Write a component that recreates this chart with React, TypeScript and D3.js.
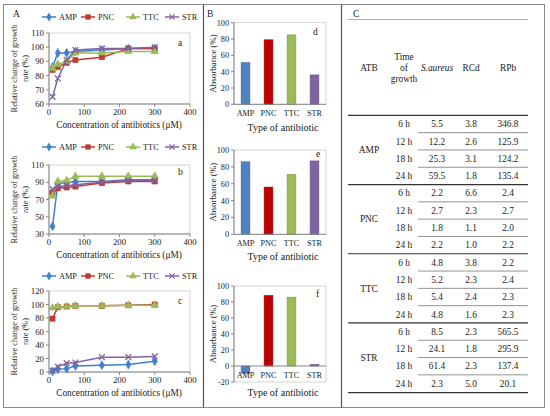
import React from "react";
import * as d3 from "d3";

const SERIES = ["AMP", "PNC", "TTC", "STR"];
const COLORS = ["#3F7FCF", "#C0392F", "#9BBB59", "#8064A2"];
const BAR_COLORS = ["#4F81BD", "#C00000", "#9BBB59", "#8064A2"];
const CONC = [10, 25, 50, 75, 150, 225, 300];

// Panel A a
const A_AMP = [86, 96, 96, 97, 98, 99, 99];
const A_PNC = [84, 86, 89, 91, 93, 99, 99];
const A_TTC = [85, 88, 90, 96, 96, 97, 97];
const A_STR = [65, 78, 91, 98, 99, 99, 100];
// Panel A b
const B_AMP = [39, 88, 90, 91, 91, 93, 93];
const B_PNC = [78, 83, 84, 85, 89, 91, 91];
const B_TTC = [74, 91, 92, 97, 97, 97, 97];
const B_STR = [82, 85, 86, 87, 90, 92, 92];
// Panel A c
const C_AMP = [1, 4, 5, 9, 10, 11, 16];
const C_PNC = [79, 96, 97, 98, 98, 99, 100];
const C_TTC = [95, 97, 97, 98, 98, 99, 99];
const C_STR = [2, 8, 13, 14, 22, 22, 23];

// Panel B
const D_VALUES = [51, 79, 85, 36];
const E_VALUES = [86, 56, 71, 87];
const F_VALUES = [-9, 88, 86, 2];

// Panel C table
const TIMES = ["6 h", "12 h", "18 h", "24 h"];
const SAUREUS = [
  ["5.5", "12.2", "25.3", "59.5"],
  ["2.2", "2.7", "1.8", "2.2"],
  ["4.8", "5.2", "5.4", "4.8"],
  ["8.5", "24.1", "61.4", "2.3"],
];
const RCD = [
  ["3.8", "2.6", "3.1", "1.8"],
  ["6.6", "2.3", "1.1", "1.0"],
  ["3.8", "2.3", "2.4", "1.6"],
  ["2.3", "1.8", "2.3", "5.0"],
];
const RPB = [
  ["346.8", "125.9", "124.2", "135.4"],
  ["2.4", "2.7", "2.0", "2.2"],
  ["2.2", "2.4", "2.3", "2.3"],
  ["565.5", "295.9", "137.4", "20.1"],
];

const FONT = "Liberation Serif, Times New Roman, serif";
const TXT = "#222";

function Marker({ kind, x, y, color, scale = 1 }: { kind: number; x: number; y: number; color: string; scale?: number }) {
  if (kind === 3) {
    const s = 2.9 * scale;
    return (
      <path
        d={`M${x - s},${y - s}L${x + s},${y + s}M${x - s},${y + s}L${x + s},${y - s}`}
        stroke={color}
        strokeWidth={1.3}
      />
    );
  }
  const types = [d3.symbolDiamond, d3.symbolSquare, d3.symbolTriangle];
  const sizes = [24, 28, 26];
  const p = d3.symbol().type(types[kind]).size(sizes[kind] * scale * scale)();
  return <path d={p || ""} transform={`translate(${x},${y})`} fill={color} stroke={color} strokeWidth={0.5} />;
}

function Legend({ y }: { y: number }) {
  const xs = [42, 81, 126, 165];
  return (
    <g>
      {SERIES.map((s, i) => (
        <g key={s}>
          <line x1={xs[i]} x2={xs[i] + 14} y1={y} y2={y} stroke={COLORS[i]} strokeWidth={1.5} />
          <Marker kind={i} x={xs[i] + 7} y={y} color={COLORS[i]} scale={0.9} />
          <text x={xs[i] + 17} y={y + 2.9} fontSize={8.3} fontFamily={FONT} fill={TXT}>
            {s}
          </text>
        </g>
      ))}
    </g>
  );
}

function LineChart({
  top,
  bottom,
  domain,
  step,
  data,
  letter,
  letterY,
  legendY,
}: {
  top: number;
  bottom: number;
  domain: [number, number];
  step: number;
  data: number[][];
  letter: string;
  letterY: number;
  legendY: number;
}) {
  const x = d3.scaleLinear().domain([0, 400]).range([49, 190]);
  const y = d3.scaleLinear().domain(domain).range([bottom, top]);
  const yt = d3.range(domain[0], domain[1] + 0.001, step);
  const xt = [0, 100, 200, 300, 400];
  const line = d3
    .line<number>()
    .x((_, i) => x(CONC[i]))
    .y((v) => y(v));
  const mid = (top + bottom) / 2;
  return (
    <g>
      <Legend y={legendY} />
      <rect x={49} y={top} width={141} height={bottom - top} fill="none" stroke="#c8c8c8" strokeWidth={0.8} />
      <line x1={49} x2={49} y1={top} y2={bottom} stroke="#868686" />
      <line x1={49} x2={190} y1={bottom} y2={bottom} stroke="#868686" />
      {yt.map((t) => (
        <g key={t}>
          <line x1={46} x2={49} y1={y(t)} y2={y(t)} stroke="#868686" />
          <text x={44} y={y(t) + 3} textAnchor="end" fontSize={8.8} fontFamily={FONT} fill={TXT}>
            {t}
          </text>
        </g>
      ))}
      {xt.map((t) => (
        <g key={t}>
          <line x1={x(t)} x2={x(t)} y1={bottom} y2={bottom + 3} stroke="#868686" />
          <text x={x(t)} y={bottom + 11} textAnchor="middle" fontSize={8.8} fontFamily={FONT} fill={TXT}>
            {t}
          </text>
        </g>
      ))}
      <text x={119} y={bottom + 24} textAnchor="middle" fontSize={9.3} fontFamily={FONT} fill={TXT}>
        Concentration of antibiotics (μM)
      </text>
      <text
        transform={`translate(17,${mid}) rotate(-90)`}
        textAnchor="middle"
        fontSize={8.3}
        fontFamily={FONT}
        fill={TXT}
      >
        Relative change of growth
      </text>
      <text
        transform={`translate(28,${mid}) rotate(-90)`}
        textAnchor="middle"
        fontSize={8.3}
        fontFamily={FONT}
        fill={TXT}
      >
        rate (%)
      </text>
      <text x={178} y={letterY} fontSize={9.5} fontFamily={FONT} fill={TXT}>
        {letter}
      </text>
      {data.map((vals, si) => (
        <g key={si}>
          <path d={line(vals) || ""} fill="none" stroke={COLORS[si]} strokeWidth={1.5} />
          {vals.map((v, i) => (
            <Marker key={i} kind={si} x={x(CONC[i])} y={y(v)} color={COLORS[si]} />
          ))}
        </g>
      ))}
    </g>
  );
}

function BarChart({
  top,
  bottom,
  domain,
  values,
  letter,
  letterX,
  letterY,
  titleY,
}: {
  top: number;
  bottom: number;
  domain: [number, number];
  values: number[];
  letter: string;
  letterX: number;
  letterY: number;
  titleY: number;
}) {
  const x = d3.scaleBand<string>().domain(SERIES).range([234, 326]).paddingInner(0.62).paddingOuter(0.31);
  const y = d3.scaleLinear().domain(domain).range([bottom, top]);
  const yt = d3.range(domain[0], domain[1] + 0.001, 20);
  const zero = y(0);
  const mid = (top + bottom) / 2;
  return (
    <g>
      <rect x={234} y={top} width={92} height={bottom - top} fill="none" stroke="#c8c8c8" strokeWidth={0.8} />
      <line x1={234} x2={234} y1={top} y2={bottom} stroke="#868686" />
      {yt.map((t) => (
        <g key={t}>
          <line x1={231} x2={234} y1={y(t)} y2={y(t)} stroke="#868686" />
          <text x={229} y={y(t) + 3} textAnchor="end" fontSize={8.2} fontFamily={FONT} fill={TXT}>
            {t}
          </text>
        </g>
      ))}
      {values.map((v, i) => (
        <rect
          key={i}
          x={x(SERIES[i])}
          width={x.bandwidth()}
          y={Math.min(y(v), zero)}
          height={Math.abs(y(v) - zero)}
          fill={BAR_COLORS[i]}
          stroke={d3.color(BAR_COLORS[i])!.darker(0.6).toString()}
          strokeWidth={0.6}
        />
      ))}
      <line x1={234} x2={326} y1={zero} y2={zero} stroke="#868686" />
      {SERIES.map((s) => (
        <text
          key={s}
          x={(x(s) || 0) + x.bandwidth() / 2}
          y={zero + 11.5}
          textAnchor="middle"
          fontSize={8.2}
          fontFamily={FONT}
          fill={TXT}
        >
          {s}
        </text>
      ))}
      <text x={283} y={titleY} textAnchor="middle" fontSize={10} fontFamily={FONT} fill={TXT}>
        Type of antibiotic
      </text>
      <text
        transform={`translate(216,${mid}) rotate(-90)`}
        textAnchor="middle"
        fontSize={9}
        fontFamily={FONT}
        fill={TXT}
      >
        Absorbance (%)
      </text>
      <text x={letterX} y={letterY} fontSize={9.5} fontFamily={FONT} fill={TXT}>
        {letter}
      </text>
    </g>
  );
}

function Table() {
  const rowY = d3.scaleLinear().domain([0, 15]).range([124, 383.5]);
  const half = 8.65;
  const L = 348;
  const R = 528;
  const cols = { atb: 369, time: 404, sa: 437, rcd: 471, rpb: 508 };
  const fs = 9.4;
  const elems: React.ReactNode[] = [];
  SERIES.forEach((g, gi) => {
    TIMES.forEach((t, ti) => {
      const r = gi * 4 + ti;
      const cy = rowY(r) + 3.2;
      elems.push(
        <g key={`${g}-${t}`}>
          <text x={cols.time} y={cy} textAnchor="middle" fontSize={fs} fontFamily={FONT} fill={TXT}>
            {t}
          </text>
          <text x={cols.sa} y={cy} textAnchor="middle" fontSize={fs} fontFamily={FONT} fill={TXT}>
            {SAUREUS[gi][ti]}
          </text>
          <text x={cols.rcd} y={cy} textAnchor="middle" fontSize={fs} fontFamily={FONT} fill={TXT}>
            {RCD[gi][ti]}
          </text>
          <text x={cols.rpb} y={cy} textAnchor="middle" fontSize={fs} fontFamily={FONT} fill={TXT}>
            {RPB[gi][ti]}
          </text>
          {ti < 3 && (
            <line x1={418} x2={R} y1={rowY(r) + half} y2={rowY(r) + half} stroke="#777" strokeWidth={0.8} />
          )}
        </g>
      );
    });
    const gy = (rowY(gi * 4 + 1) + rowY(gi * 4 + 2)) / 2 + 3.2;
    elems.push(
      <text key={`lab-${g}`} x={cols.atb} y={gy} textAnchor="middle" fontSize={fs} fontFamily={FONT} fill={TXT}>
        {g}
      </text>
    );
    elems.push(
      <line
        key={`gl-${g}`}
        x1={L}
        x2={R}
        y1={rowY(gi * 4) - half}
        y2={rowY(gi * 4) - half}
        stroke="#333"
        strokeWidth={1.2}
      />
    );
  });
  return (
    <g>
      <text x={353} y={17} fontSize={9.5} fontFamily={FONT} fill={TXT}>
        C
      </text>
      <line x1={L} x2={R} y1={19.5} y2={19.5} stroke="#999" strokeWidth={0.8} />
      <text x={cols.atb} y={71} textAnchor="middle" fontSize={fs} fontFamily={FONT} fill={TXT}>
        ATB
      </text>
      {["Time", "of", "growth"].map((w, i) => (
        <text key={w} x={cols.time} y={60 + i * 11} textAnchor="middle" fontSize={fs} fontFamily={FONT} fill={TXT}>
          {w}
        </text>
      ))}
      <text x={cols.sa} y={71} textAnchor="middle" fontSize={fs} fontFamily={FONT} fontStyle="italic" fill={TXT}>
        S.aureus
      </text>
      <text x={cols.rcd} y={71} textAnchor="middle" fontSize={fs} fontFamily={FONT} fill={TXT}>
        RCd
      </text>
      <text x={cols.rpb} y={71} textAnchor="middle" fontSize={fs} fontFamily={FONT} fill={TXT}>
        RPb
      </text>
      {elems}
      <line x1={L} x2={R} y1={rowY(15) + half + 0.5} y2={rowY(15) + half + 0.5} stroke="#333" strokeWidth={1.2} />
    </g>
  );
}

export default function App() {
  return (
    <svg
      width={550}
      height={416}
      style={{ position: "absolute", left: 0, top: 0, background: "#fff", fontFamily: FONT }}
    >
      <rect x={0} y={0} width={550} height={416} fill="#fff" />
      <rect x={3.5} y={4.5} width={541} height={403} fill="none" stroke="#8a8a8a" strokeWidth={1} />
      <line x1={203.5} x2={203.5} y1={4.5} y2={407.5} stroke="#555" strokeWidth={1.2} />
      <line x1={341.5} x2={341.5} y1={4.5} y2={407.5} stroke="#555" strokeWidth={1.2} />
      <text x={13} y={17} fontSize={9.5} fontFamily={FONT} fill={TXT}>
        A
      </text>
      <text x={207} y={17} fontSize={9.5} fontFamily={FONT} fill={TXT}>
        B
      </text>
      <LineChart
        top={33}
        bottom={104}
        domain={[60, 110]}
        step={10}
        data={[A_AMP, A_PNC, A_TTC, A_STR]}
        letter="a"
        letterY={46}
        legendY={17}
      />
      <LineChart
        top={165}
        bottom={234}
        domain={[30, 110]}
        step={20}
        data={[B_AMP, B_PNC, B_TTC, B_STR]}
        letter="b"
        letterY={175}
        legendY={147}
      />
      <LineChart
        top={291}
        bottom={372}
        domain={[0, 120]}
        step={20}
        data={[C_AMP, C_PNC, C_TTC, C_STR]}
        letter="c"
        letterY={304}
        legendY={276}
      />
      <BarChart top={22.7} bottom={104.3} domain={[0, 100]} values={D_VALUES} letter="d" letterX={313} letterY={35} titleY={131} />
      <BarChart top={150} bottom={234.3} domain={[0, 100]} values={E_VALUES} letter="e" letterX={316} letterY={157} titleY={260} />
      <BarChart top={286} bottom={382} domain={[-20, 100]} values={F_VALUES} letter="f" letterX={316} letterY={297} titleY={396} />
      <Table />
    </svg>
  );
}
